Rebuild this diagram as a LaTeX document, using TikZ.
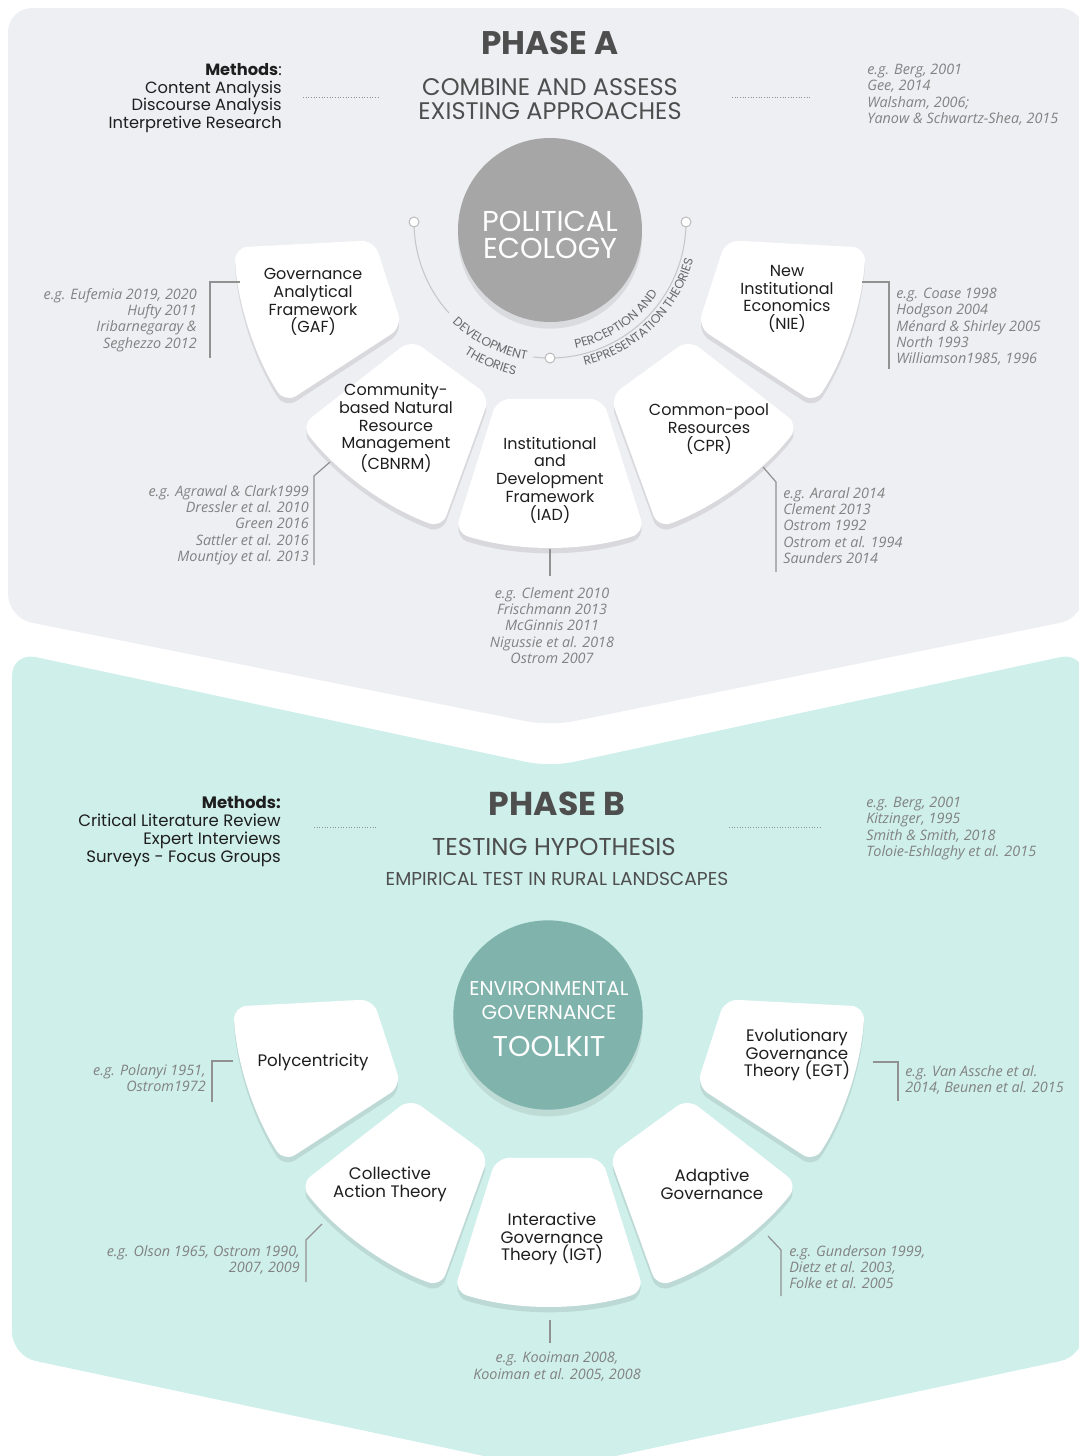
\documentclass[tikz,border=0pt]{standalone}
\usepackage{fontspec}
\usetikzlibrary{shadows,decorations.text}
\setmainfont{Poppins}
\newfontfamily\citefontA{Open Sans}
\definecolor{panelA}{RGB}{238,239,243}
\definecolor{panelB}{RGB}{206,239,234}
\definecolor{circA}{RGB}{166,166,166}
\definecolor{circB}{RGB}{128,179,172}
\definecolor{refgray}{RGB}{130,130,130}
\definecolor{headgray}{RGB}{78,78,78}
\definecolor{txtdark}{RGB}{30,30,30}
\definecolor{linegray}{RGB}{145,145,145}

\newcommand{\petal}[3]{%
  \pgfmathsetmacro\pa{#2-#3}
  \pgfmathsetmacro\pb{#2+#3}
  \fill[petalbox] (#1) ++(\pa:176) -- ++(\pa:140) arc[start angle=\pa, end angle=\pb, radius=316] -- ++(\pb:-140) -- cycle;}

\begin{document}
\begin{tikzpicture}[x=0.75pt, y=-0.75pt,
  petalbox/.style={fill=white, rounded corners=10pt, drop shadow={shadow xshift=0pt, shadow yshift=-4pt, opacity=0.13, fill=black!70}},
  petaltext/.style={align=center, text=txtdark, inner sep=0pt, font=\fontsize{12}{13.3}\selectfont},
  petaltextB/.style={align=center, text=txtdark, inner sep=0pt, font=\fontsize{12.5}{13.2}\selectfont},
  reftext/.style={text=refgray, inner sep=0pt, font=\citefontA\itshape\fontsize{10.8}{12.2}\selectfont},
  methtext/.style={align=right, text=txtdark, inner sep=0pt, font=\fontsize{12.2}{13.3}\selectfont},
  refline/.style={draw=linegray, line width=0.9pt},
  dotline/.style={draw=linegray, line width=0.7pt, dash pattern=on 0.7pt off 1.3pt},
  arcline/.style={draw=black!22, line width=0.8pt},
  arcdot/.style={circle, fill=white, draw=black!28, line width=0.7pt, minimum size=7.5pt, inner sep=0pt},
  arctext/.style={decorate, decoration={text along path, text align=center, text color=headgray!85}}]
\useasboundingbox (0,0) rectangle (1078,1456);

\fill[panelA, rounded corners=18pt] (8,618) -- (8,8) -- (1084,8) -- (1084,618) -- (550,726) -- cycle;
\fill[panelB, rounded corners=18pt] (12,652) -- (550,767) -- (1084,652) -- (1084,1356) -- (550,1470) -- (12,1356) -- cycle;

\node[font=\bfseries\fontsize{24.5}{24.5}\selectfont, text=headgray] (phA) at (550,43) {PHASE A};
\node[align=center, text=headgray, font=\fontsize{18}{18}\selectfont] (subA) at (550,99) {COMBINE AND ASSESS\\EXISTING APPROACHES};
\node[methtext, anchor=north east] (methA) at (282,63) {\textbf{Methods}:\\Content Analysis\\Discourse Analysis\\Interpretive Research};
\node[reftext, align=left, anchor=north west] (litA) at (867,64) {e.g. Berg, 2001\\Gee, 2014\\Walsham, 2006;\\Yanow \& Schwartz-Shea, 2015};
\coordinate (dA1) at (303,97);
\coordinate (dA2) at (380,97);
\coordinate (dA3) at (732,97);
\coordinate (dA4) at (810,97);
\draw[dotline] (dA1) -- (dA2);
\draw[dotline] (dA3) -- (dA4);

\coordinate (pcA) at (550,231);
\petal{pcA}{18}{15}
\petal{pcA}{54}{16}
\petal{pcA}{90}{17.5}
\petal{pcA}{126}{16}
\petal{pcA}{162}{15}

\node[circle, fill=circA, minimum size=138pt, inner sep=0pt, drop shadow={shadow xshift=0pt, shadow yshift=-5pt, opacity=0.12, fill=black!70}] (pe) at (550,230) {};
\node[align=center, text=white, font=\fontsize{21.6}{20.3}\selectfont] (peText) at (550,235) {POLITICAL\\ECOLOGY};

\coordinate (arcc) at (550,222);
\draw[arcline] (arcc) ++(180:136) arc[start angle=180, end angle=138, radius=136];
\draw[arcline] (arcc) ++(97:136) arc[start angle=97, end angle=0, radius=136];
\node[arcdot] (arcL) at (414,222) {};
\node[arcdot] (arcR) at (686,222) {};
\node[arcdot] (arcB) at (550,358) {};
\path[arctext, decoration={text={|\fontsize{9.3}{9}\selectfont|DEVELOPMENT}}] (arcc) ++(139:140) arc[start angle=139, end angle=95, radius=140];
\path[arctext, decoration={text={|\fontsize{9.3}{9}\selectfont|THEORIES}}] (arcc) ++(128:157) arc[start angle=128, end angle=98, radius=157];
\path[arctext, decoration={text={|\fontsize{9.3}{9}\selectfont|PERCEPTION AND}}] (arcc) ++(81:129) arc[start angle=81, end angle=31, radius=129];
\path[arctext, decoration={text={|\fontsize{9.3}{9}\selectfont|REPRESENTATION THEORIES}}] (arcc) ++(79:148) arc[start angle=79, end angle=12, radius=148];

\node[petaltext] (gaf) at (313,302) {Governance\\Analytical\\Framework\\(GAF)};
\node[petaltext] (nie) at (787,299) {New\\Institutional\\Economics\\(NIE)};
\node[petaltext] (cbnrm) at (396,428) {Community-\\based Natural\\Resource\\Management\\(CBNRM)};
\node[petaltext] (iad) at (550,480) {Institutional\\and\\Development\\Framework\\(IAD)};
\node[petaltext] (cpr) at (709,429) {Common-pool\\Resources\\(CPR)};

\node[reftext, align=right, anchor=north east] (refgaf) at (197,288) {e.g. Eufemia 2019, 2020\\Hufty 2011\\Iribarnegaray \&\\Seghezzo 2012};
\node[reftext, align=left, anchor=north west] (refnie) at (896,288) {e.g. Coase 1998\\Hodgson 2004\\Ménard \& Shirley 2005\\North 1993\\Williamson1985, 1996};
\node[reftext, align=right, anchor=north east] (refcbnrm) at (309,485) {e.g. Agrawal \& Clark1999\\Dressler et al. 2010\\Green 2016\\Sattler et al. 2016\\Mountjoy et al. 2013};
\node[reftext, align=center, anchor=north] (refiad) at (552,587) {e.g. Clement 2010\\Frischmann 2013\\McGinnis 2011\\Nigussie et al. 2018\\Ostrom 2007};
\node[reftext, align=left, anchor=north west] (refcpr) at (783,487) {e.g. Araral 2014\\Clement 2013\\Ostrom 1992\\Ostrom et al. 1994\\Saunders 2014};

\coordinate (gaf1) at (240,282);
\coordinate (gaf2) at (210,282);
\coordinate (gaf3) at (210,358);
\draw[refline] (gaf1) -- (gaf2) -- (gaf3);
\coordinate (nie1) at (862,282);
\coordinate (nie2) at (889,282);
\coordinate (nie3) at (889,369);
\draw[refline] (nie1) -- (nie2) -- (nie3);
\coordinate (cbn1) at (330,462);
\coordinate (cbn2) at (314,476);
\coordinate (cbn3) at (314,565);
\draw[refline] (cbn1) -- (cbn2) -- (cbn3);
\coordinate (iad1) at (550,549);
\coordinate (iad2) at (550,576);
\draw[refline] (iad1) -- (iad2);
\coordinate (cpr1) at (763,467);
\coordinate (cpr2) at (776,482);
\coordinate (cpr3) at (776,572);
\draw[refline] (cpr1) -- (cpr2) -- (cpr3);

\node[font=\bfseries\fontsize{24.8}{24.8}\selectfont, text=headgray] (phB) at (557,804) {PHASE B};
\node[text=headgray, font=\fontsize{18.3}{18.3}\selectfont] (subB) at (554,847) {TESTING HYPOTHESIS};
\node[text=headgray, font=\fontsize{14}{14}\selectfont] (empB) at (557,879) {EMPIRICAL TEST IN RURAL LANDSCAPES};
\node[methtext, anchor=north east, font=\fontsize{12.4}{13.5}\selectfont] (methB) at (281,796) {\textbf{Methods:}\\Critical Literature Review\\Expert Interviews\\Surveys - Focus Groups};
\node[reftext, align=left, anchor=north west] (litB) at (866,797) {e.g. Berg, 2001\\Kitzinger, 1995\\Smith \& Smith, 2018\\Toloie-Eshlaghy et al. 2015};
\coordinate (dB1) at (314,827);
\coordinate (dB2) at (378,827);
\coordinate (dB3) at (729,827);
\coordinate (dB4) at (822,827);
\draw[dotline] (dB1) -- (dB2);
\draw[dotline] (dB3) -- (dB4);

\coordinate (pcB) at (549,990);
\petal{pcB}{18}{15}
\petal{pcB}{54}{16}
\petal{pcB}{90}{17.5}
\petal{pcB}{126}{16}
\petal{pcB}{162}{15}

\node[circle, fill=circB, minimum size=142pt, inner sep=0pt, drop shadow={shadow xshift=0pt, shadow yshift=-5pt, opacity=0.12, fill=black!70}] (egtk) at (548,1015) {};
\node[align=center, text=white, font=\fontsize{15}{18}\selectfont] (egtkText) at (549,1019) {ENVIRONMENTAL\\GOVERNANCE\\[10pt]{\fontsize{21.5}{21.5}\selectfont TOOLKIT}};

\node[petaltextB] (poly) at (313,1062) {Polycentricity};
\node[petaltextB] (egt) at (797,1055) {Evolutionary\\Governance\\Theory (EGT)};
\node[petaltextB] (cat) at (390,1184) {Collective\\Action Theory};
\node[petaltextB] (igt) at (552,1239) {Interactive\\Governance\\Theory (IGT)};
\node[petaltextB] (adg) at (712,1184) {Adaptive\\Governance};

\node[reftext, align=right, anchor=north east] (refpoly) at (206,1064) {e.g. Polanyi 1951,\\Ostrom1972};
\node[reftext, align=left, anchor=north west] (refegt) at (905,1065) {e.g. Van Assche et al.\\2014, Beunen et al. 2015};
\node[reftext, align=right, anchor=north east] (refcat) at (300,1245) {e.g. Olson 1965, Ostrom 1990,\\2007, 2009};
\node[reftext, align=left, anchor=north west] (refadg) at (789,1245) {e.g. Gunderson 1999,\\Dietz et al. 2003,\\Folke et al. 2005};
\node[reftext, align=center, anchor=north] (refigt) at (557,1352) {e.g. Kooiman 2008,\\Kooiman et al. 2005, 2008};

\coordinate (poly1) at (233,1061);
\coordinate (poly2) at (212,1061);
\coordinate (poly3) at (212,1102);
\draw[refline] (poly1) -- (poly2) -- (poly3);
\coordinate (egt1) at (873,1062);
\coordinate (egt2) at (898,1062);
\coordinate (egt3) at (898,1101);
\draw[refline] (egt1) -- (egt2) -- (egt3);
\coordinate (cat1) at (322,1224);
\coordinate (cat2) at (306,1240);
\coordinate (cat3) at (306,1282);
\draw[refline] (cat1) -- (cat2) -- (cat3);
\coordinate (adg1) at (768,1236);
\coordinate (adg2) at (781,1250);
\coordinate (adg3) at (781,1296);
\draw[refline] (adg1) -- (adg2) -- (adg3);
\coordinate (igt1) at (550,1320);
\coordinate (igt2) at (550,1343);
\draw[refline] (igt1) -- (igt2);
\end{tikzpicture}
\end{document}
